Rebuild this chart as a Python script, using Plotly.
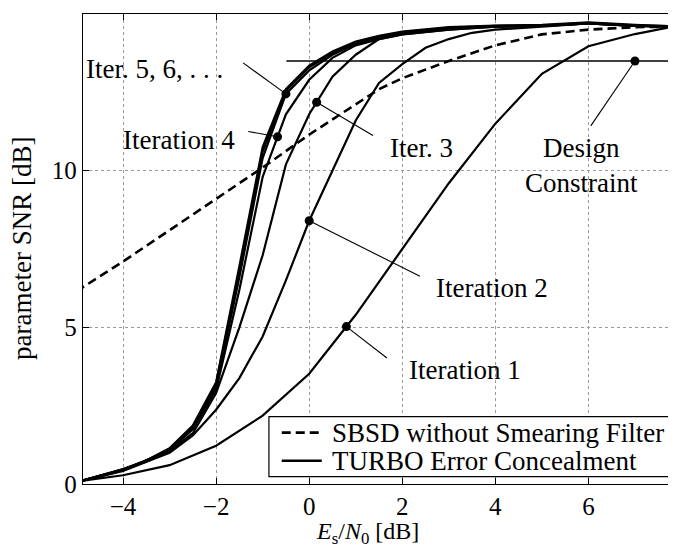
import numpy as np
import plotly.graph_objects as go

# ---------------- data ----------------
es_n0_sbsd = [-5, -4, -3, -2, -1, 0, 1, 1.5, 2, 3, 4, 5, 6, 7, 8]
snr_sbsd = [6.15, 7.1, 8.1, 9.1, 10.1, 11.15, 12.1, 12.6, 12.95, 13.5, 14.0, 14.35, 14.5, 14.58, 14.6]

es_n0_it1 = [-5, -4, -3, -2, -1, 0, 1, 2, 3, 4, 5, 6, 7, 8]
snr_it1 = [0.08, 0.28, 0.6, 1.22, 2.18, 3.52, 5.4, 7.5, 9.6, 11.5, 13.09, 13.97, 14.36, 14.65]

es_n0_it2 = [-5, -4, -3, -2.5, -2, -1.5, -1, -0.5, 0, 0.5, 1, 1.5, 2, 2.5, 3, 3.5, 4, 5, 6, 7, 8]
snr_it2 = [0.06, 0.42, 1.0, 1.55, 2.37, 3.38, 4.71, 6.5, 8.4, 10.0, 11.6, 12.8, 13.4, 13.92, 14.2, 14.4, 14.5, 14.6, 14.7, 14.62, 14.6]

es_n0_it3 = [-5, -4, -3, -2.5, -2, -1.5, -1, -0.5, 0, 0.5, 1, 1.5, 2, 3, 4, 5, 6, 7, 8]
snr_it3 = [0.06, 0.43, 1.05, 1.62, 2.9, 5.0, 7.3, 10.2, 11.8, 13.0, 13.7, 14.2, 14.35, 14.5, 14.6, 14.62, 14.7, 14.62, 14.6]

es_n0_it4 = [-5, -4, -3, -2.5, -2, -1.5, -1, -0.5, 0, 0.5, 1, 1.5, 2, 3, 4, 5, 6, 7, 8]
snr_it4 = [0.06, 0.45, 1.08, 1.75, 3.0, 6.2, 9.8, 11.8, 12.9, 13.6, 14.0, 14.2, 14.35, 14.5, 14.6, 14.62, 14.7, 14.62, 14.6]

es_n0_it5 = [-5, -4, -3.5, -3, -2.5, -2, -1.5, -1, -0.5, 0, 0.5, 1, 1.5, 2, 3, 4, 5, 6, 7, 8]
snr_it5 = [0.06, 0.46, 0.72, 1.1, 1.8, 3.1, 6.6, 10.4, 12.45, 13.2, 13.7, 14.05, 14.25, 14.4, 14.55, 14.6, 14.62, 14.7, 14.62, 14.6]
snr_it6 = [0.06, 0.47, 0.74, 1.12, 1.84, 3.2, 6.8, 10.6, 12.55, 13.3, 13.75, 14.1, 14.28, 14.42, 14.56, 14.62, 14.64, 14.72, 14.64, 14.6]
snr_it7 = [0.06, 0.48, 0.75, 1.14, 1.87, 3.25, 6.95, 10.75, 12.6, 13.35, 13.8, 14.12, 14.3, 14.44, 14.58, 14.63, 14.65, 14.73, 14.65, 14.6]

design_snr = 13.5
design_start = -0.49
design_marker_x = 7.0

x_ticks = [-4, -2, 0, 2, 4, 6]
y_ticks = [0, 5, 10, 15]

legend_labels = ["SBSD without Smearing Filter", "TURBO Error Concealment"]

FONT = "Liberation Serif"
FS = 27
fig = go.Figure()

fig.add_trace(go.Scatter(x=es_n0_sbsd, y=snr_sbsd, mode="lines",
                         line=dict(color="black", width=2.6, dash="9px,5px"),
                         name=legend_labels[0], showlegend=False))

curves = [(es_n0_it1, snr_it1), (es_n0_it2, snr_it2), (es_n0_it3, snr_it3),
          (es_n0_it4, snr_it4), (es_n0_it5, snr_it5), (es_n0_it5, snr_it6),
          (es_n0_it5, snr_it7)]
for i, (xs, ys) in enumerate(curves):
    fig.add_trace(go.Scatter(x=xs, y=ys, mode="lines",
                             line=dict(color="black", width=2.2),
                             name=legend_labels[1], showlegend=False))

# design constraint line
fig.add_trace(go.Scatter(x=[design_start, 9], y=[design_snr, design_snr], mode="lines",
                         line=dict(color="black", width=1.3), showlegend=False))

ann = [
    (es_n0_it5, snr_it5, -0.5, -1.42, 13.44, "Iter. 5, 6, . . .", -1.80, 13.23, "right"),
    (es_n0_it4, snr_it4, -0.68, -1.31, 11.25, "Iteration 4", -1.56, 10.99, "right"),
    (es_n0_it3, snr_it3, 0.16, 1.37, 11.12, "Iter. 3", 1.70, 10.73, "left"),
    (es_n0_it2, snr_it2, 0.0, 2.38, 6.63, "Iteration 2", 2.68, 6.27, "left"),
    (es_n0_it1, snr_it1, 0.8, 1.67, 4.02, "Iteration 1", 2.10, 3.65, "left"),
]
mx, my = [], []
for xs, ys, xm, lx, ly, txt, tx, ty, anc in ann:
    ym = float(np.interp(xm, xs, ys))
    mx.append(xm); my.append(ym)
    fig.add_shape(type="line", x0=xm, y0=ym, x1=lx, y1=ly, line=dict(color="black", width=1.1))
    fig.add_annotation(x=tx, y=ty, text=txt, showarrow=False, xanchor=anc, yanchor="middle",
                       font=dict(family=FONT, size=FS, color="black"))
mx.append(design_marker_x); my.append(design_snr)
fig.add_shape(type="line", x0=design_marker_x, y0=design_snr, x1=6.05, y1=11.43,
              line=dict(color="black", width=1.1))
fig.add_annotation(x=5.85, y=10.15, text="Design<br>Constraint", showarrow=False,
                   xanchor="center", yanchor="middle", align="center",
                   font=dict(family=FONT, size=FS, color="black"))
fig.add_trace(go.Scatter(x=mx, y=my, mode="markers", marker=dict(color="black", size=9),
                         showlegend=False))

# ---- legend box (drawn by hand to match the reference placement) ----
fig.add_shape(type="rect", x0=-0.865, x1=7.74, y0=0.233, y1=2.15,
              line=dict(color="black", width=1.2), fillcolor="white", layer="above")
for row_y, dash, lbl in [(1.64, "9px,5px", legend_labels[0]), (0.74, "solid", legend_labels[1])]:
    fig.add_shape(type="line", x0=-0.59, x1=0.27, y0=row_y, y1=row_y,
                  line=dict(color="black", width=2.6, dash=dash), layer="above")
    fig.add_annotation(x=0.45, y=row_y, text=lbl, showarrow=False, xanchor="left",
                       yanchor="middle", font=dict(family=FONT, size=FS, color="black"))

axis_common = dict(showline=True, linecolor="black", linewidth=1.3, mirror="ticks",
                   ticks="inside", ticklen=6, tickcolor="black", tickwidth=1,
                   showgrid=True, gridcolor="#999999", griddash="dot", gridwidth=1,
                   zeroline=False, automargin=False,
                   tickfont=dict(family=FONT, size=25, color="black"))

# the page body adds an 8px margin, so the figure is sized to fit the window
fig.update_layout(
    width=668, height=542,
    margin=dict(l=75, r=1, t=6, b=66),
    paper_bgcolor="white", plot_bgcolor="white",
    font=dict(family=FONT, size=FS, color="black"),
    xaxis=dict(range=[-4.86, 7.86], tickvals=x_ticks, **axis_common),
    yaxis=dict(range=[0, 15], tickvals=y_ticks, **axis_common),
    showlegend=False,
)

# axis titles
fig.add_annotation(xref="paper", yref="paper", x=0.48, y=-0.105, xanchor="center",
                   yanchor="middle", showarrow=False,
                   text="<i>E</i><sub>s</sub>/<i>N</i><sub>0</sub> [dB]",
                   font=dict(family=FONT, size=24, color="black"))
fig.add_annotation(xref="paper", yref="paper", x=-0.103, y=0.5, xanchor="center",
                   yanchor="middle", showarrow=False, textangle=-90,
                   text="parameter SNR [dB]",
                   font=dict(family=FONT, size=FS, color="black"))

fig.write_html("out.html")
